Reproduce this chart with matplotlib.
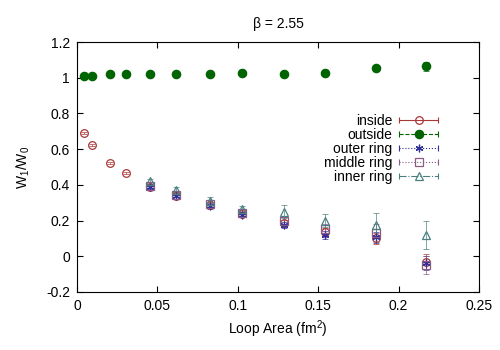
import matplotlib
matplotlib.use('Agg')
import matplotlib.pyplot as plt
from matplotlib.lines import Line2D
from matplotlib.legend_handler import HandlerLine2D

# Dados
areas = [0.0045, 0.0095, 0.0205, 0.0305, 0.0455, 0.0615, 0.0825, 0.1025, 0.1285, 0.1545, 0.186, 0.217]
outside = [1.008, 1.010, 1.018, 1.020, 1.022, 1.023, 1.023, 1.025, 1.023, 1.025, 1.055, 1.065]
outside_err = [0.003, 0.003, 0.003, 0.003, 0.004, 0.004, 0.005, 0.006, 0.007, 0.009, 0.015, 0.025]
inside = [0.69, 0.625, 0.52, 0.465, 0.39, 0.34, 0.285, 0.235, 0.185, 0.135, 0.10, -0.03]
inside_err = [0.005, 0.005, 0.006, 0.007, 0.01, 0.01, 0.012, 0.015, 0.02, 0.025, 0.03, 0.04]

ring_areas = [0.0455, 0.0615, 0.0825, 0.1025, 0.1285, 0.1545, 0.186, 0.217]
outer = [0.385, 0.335, 0.28, 0.232, 0.175, 0.118, 0.105, -0.04]
outer_err = [0.01, 0.012, 0.013, 0.015, 0.018, 0.022, 0.03, 0.04]
middle = [0.395, 0.345, 0.29, 0.24, 0.2, 0.15, 0.13, -0.05]
middle_err = [0.012, 0.014, 0.016, 0.018, 0.022, 0.03, 0.05, 0.05]
inner = [0.42, 0.37, 0.312, 0.262, 0.25, 0.2, 0.172, 0.12]
inner_err = [0.015, 0.016, 0.018, 0.02, 0.035, 0.035, 0.07, 0.08]

labels = ['inside', 'outside', 'outer ring', 'middle ring', 'inner ring']
colors = ['#a83838', '#006400', '#30309a', '#8b5a85', '#4a8080']
markers = ['o', 'o', (6, 2, 0), 's', '^']
styles = ['-', '--', ':', ':', '-.']

plt.rcParams['font.family'] = ['Liberation Sans', 'DejaVu Sans']
plt.rcParams['mathtext.fontset'] = 'custom'
plt.rcParams['mathtext.rm'] = 'Liberation Sans'
plt.rcParams['mathtext.it'] = 'Liberation Sans:italic'


# Legenda no estilo gnuplot: linha com traços nas pontas
class CapHandler(HandlerLine2D):
    def create_artists(self, legend, orig_handle, xdescent, ydescent,
                       width, height, fontsize, trans):
        artists = super().create_artists(legend, orig_handle, xdescent, ydescent,
                                         width, height, fontsize, trans)
        yc = height / 2 - ydescent
        caps = Line2D([-xdescent, -xdescent + width], [yc, yc], linestyle='none',
                      marker='|', ms=5, mew=0.8, color=orig_handle.get_color())
        caps.set_transform(trans)
        return list(artists) + [caps]


fig = plt.figure(figsize=(5, 3.5), dpi=100)
ax = fig.add_axes([0.154, 0.166, 0.804, 0.714])

series = [
    (areas, inside, inside_err),
    (areas, outside, outside_err),
    (ring_areas, outer, outer_err),
    (ring_areas, middle, middle_err),
    (ring_areas, inner, inner_err),
]

handles = []
for (x, y, e), lab, c, m, ls in zip(series, labels, colors, markers, styles):
    filled = lab == 'outside'
    ms = 6 if filled else 5.5
    ax.errorbar(x, y, yerr=e, fmt='none', ecolor=c, elinewidth=0.7,
                capsize=2.5, capthick=0.7, alpha=0.7, zorder=2)
    ax.plot(x, y, linestyle='none', marker=m, color=c, ms=ms,
            mfc=c if filled else 'none', mec=c, mew=0.9, zorder=3)
    handles.append(Line2D([], [], color=c, linestyle=ls, linewidth=0.8,
                          marker=m, ms=ms, mfc=c if filled else 'none',
                          mec=c, mew=0.9))

ax.set_xlim(0, 0.25)
ax.set_ylim(-0.2, 1.2)
ax.set_xticks([0, 0.05, 0.1, 0.15, 0.2, 0.25])
ax.set_xticklabels(['0', '0.05', '0.1', '0.15', '0.2', '0.25'])
ax.set_yticks([-0.2, 0, 0.2, 0.4, 0.6, 0.8, 1, 1.2])
ax.set_yticklabels(['-0.2', '0', '0.2', '0.4', '0.6', '0.8', '1', '1.2'])
ax.tick_params(direction='in', top=True, right=True, labelsize=10, length=4, pad=5)

ax.set_title('β = 2.55', fontsize=10, pad=10)
ax.set_xlabel('Loop Area (fm$^2$)', fontsize=10)
ax.set_ylabel(r'$\mathrm{W_1/W_0}$', fontsize=10, labelpad=10)

ax.legend(handles, labels, loc='upper right', bbox_to_anchor=(0.898, 0.712),
          frameon=False, markerfirst=False, handlelength=2.8, labelspacing=0.0,
          borderpad=0, borderaxespad=0, handletextpad=0.5, fontsize=10,
          handler_map={Line2D: CapHandler()})

fig.savefig('out.png', dpi=100)
